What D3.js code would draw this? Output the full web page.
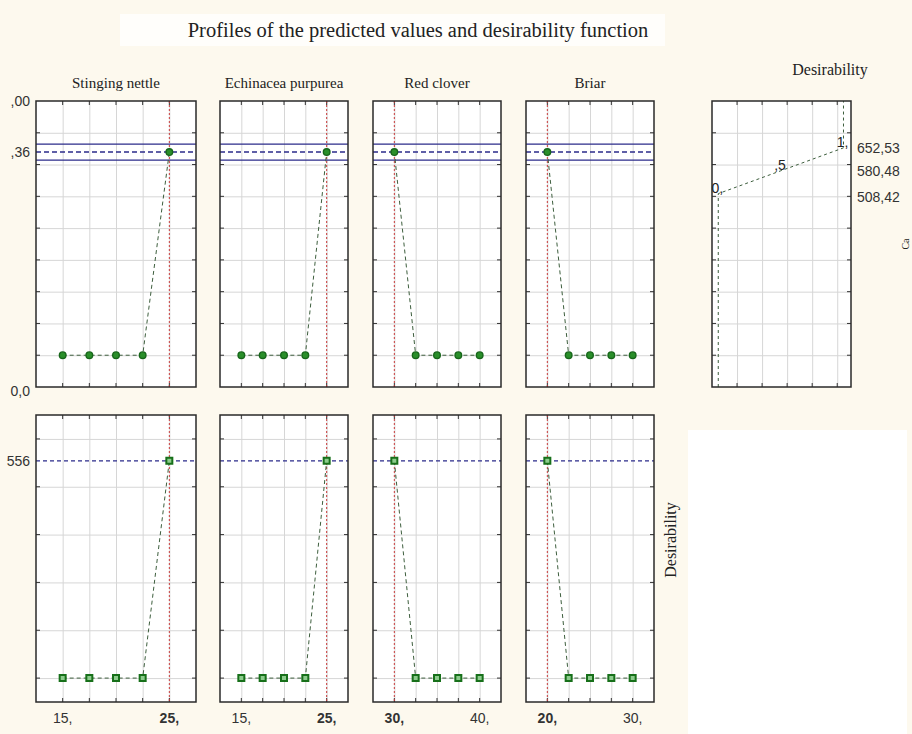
<!DOCTYPE html>
<html>
<head>
<meta charset="utf-8">
<script src="https://cdn.jsdelivr.net/npm/d3@7"></script>
<style>
  body { margin: 0; background: #fdf9ee; }
  svg { display: block; }
</style>
</head>
<body>
<script>
'use strict';

// ---- data ----
const factors = ["Stinging nettle", "Echinacea purpurea", "Red clover", "Briar"];
const factorLevels = [
  [15, 17.5, 20, 22.5, 25],
  [15, 17.5, 20, 22.5, 25],
  [30, 32.5, 35, 37.5, 40],
  [20, 22.5, 25, 27.5, 30]
];
const currentLevel = [25, 25, 30, 20];
const predictedValues = [
  [0, 0, 0, 0, 639.36],
  [0, 0, 0, 0, 639.36],
  [639.36, 0, 0, 0, 0],
  [639.36, 0, 0, 0, 0]
];
const desirabilityValues = [
  [0, 0, 0, 0, 0.9086],
  [0, 0, 0, 0, 0.9086],
  [0.9086, 0, 0, 0, 0],
  [0.9086, 0, 0, 0, 0]
];
const xTickValues = [[15, 25], [15, 25], [30, 40], [20, 30]];
const xTickLabels = [["15,", "25,"], ["15,", "25,"], ["30,", "40,"], ["20,", "30,"]];

const predicted = 639.36;
const confLow = 614.2;
const confHigh = 664.5;
const predictedDesirability = 0.9086;

const responseTickValues = [800, 639.36, -100];
const responseTickLabels = [",00", ",36", "0,0"];
const desirTickValues = [0.9086];
const desirTickLabels = ["556"];

// desirability function (response -> desirability)
const dfResponse = [508.42, 580.48, 652.53];
const dfDesirability = [0, 0.5, 1];
const dfPointLabels = ["0,", ",5", "1,"];
const dfValueLabels = ["508,42", "580,48", "652,53"];

// ---- layout ----
const W = 912, H = 734;
const topRow = [101, 387], botRow = [415, 702];
const panelX = [[36, 196], [220, 348], [373, 501], [526, 654]];
const desX = [712, 851];
const serif = "'Liberation Serif', 'Times New Roman', serif";
const sans = "'Liberation Sans', Arial, sans-serif";

const svg = d3.select("body").append("svg")
  .attr("width", W)
  .attr("height", H);

// background + white patches
svg.append("rect").attr("width", W).attr("height", H).attr("fill", "#fdf9ee");
svg.append("rect").attr("x", 120).attr("y", 14).attr("width", 545).attr("height", 32).attr("fill", "#fffefb");
svg.append("rect").attr("x", 688).attr("y", 430).attr("width", 219).attr("height", 304).attr("fill", "#ffffff");

// title
svg.append("text")
  .attr("x", 418).attr("y", 37)
  .attr("text-anchor", "middle")
  .style("font-family", serif).style("font-size", "20.5px").attr("fill", "#222")
  .text("Profiles of the predicted values and desirability function");

// scales for the two rows
let yResp = d3.scaleLinear().domain([-100, 800]).range([topRow[1], topRow[0]]);
let yDes = d3.scaleLinear().domain([-0.1, 1.1]).range([botRow[1], botRow[0]]);
let respGrid = d3.range(0, 800, 100);
let desGrid = d3.range(0, 1.01, 0.2);

// draws the frame, grid and inner ticks of one panel
function drawFrame(x, y, xGrid, yGrid) {
  let [x0, x1] = x.range();
  let [y1, y0] = y.range();
  let g = svg.append("g");

  g.append("rect")
    .attr("x", x0).attr("y", y0)
    .attr("width", x1 - x0).attr("height", y1 - y0)
    .attr("fill", "#ffffff");

  // vertical grid
  g.append("g")
    .attr("transform", "translate(0," + y1 + ")")
    .call(d3.axisBottom(x).tickValues(xGrid).tickSize(-(y1 - y0)).tickFormat(""))
    .call(a => a.select(".domain").remove())
    .selectAll("line").attr("stroke", "#d6d6d6");

  // horizontal grid
  g.append("g")
    .attr("transform", "translate(" + x0 + ",0)")
    .call(d3.axisLeft(y).tickValues(yGrid).tickSize(-(x1 - x0)).tickFormat(""))
    .call(a => a.select(".domain").remove())
    .selectAll("line").attr("stroke", "#d6d6d6");

  // small ticks on each side
  let t = 4;
  let ticks = g.append("g").attr("stroke", "#333").attr("stroke-width", 1);
  xGrid.forEach(v => {
    ticks.append("line").attr("x1", x(v)).attr("x2", x(v)).attr("y1", y0).attr("y2", y0 + t);
    ticks.append("line").attr("x1", x(v)).attr("x2", x(v)).attr("y1", y1).attr("y2", y1 - t);
  });
  yGrid.forEach(v => {
    ticks.append("line").attr("x1", x0).attr("x2", x0 + t).attr("y1", y(v)).attr("y2", y(v));
    ticks.append("line").attr("x1", x1).attr("x2", x1 - t).attr("y1", y(v)).attr("y2", y(v));
  });

  return g;
}

function drawBorder(x, y) {
  let [x0, x1] = x.range();
  let [y1, y0] = y.range();
  svg.append("rect")
    .attr("x", x0).attr("y", y0)
    .attr("width", x1 - x0).attr("height", y1 - y0)
    .attr("fill", "none").attr("stroke", "#2a2a2a").attr("stroke-width", 1.5);
}

function hLine(x, yv, dash, width) {
  let [x0, x1] = x.range();
  svg.append("line")
    .attr("x1", x0).attr("x2", x1).attr("y1", yv).attr("y2", yv)
    .attr("stroke", "#2b2b8a").attr("stroke-width", width)
    .attr("stroke-dasharray", dash);
}

factors.forEach((name, i) => {
  let levels = factorLevels[i];
  let step = levels[1] - levels[0];
  let x = d3.scaleLinear()
    .domain([d3.min(levels) - step, d3.max(levels) + step])
    .range(panelX[i]);

  // panel title
  svg.append("text")
    .attr("x", (panelX[i][0] + panelX[i][1]) / 2).attr("y", 88)
    .attr("text-anchor", "middle")
    .style("font-family", serif).style("font-size", "15px").attr("fill", "#222")
    .text(name);

  [[yResp, respGrid, predictedValues[i], "top"], [yDes, desGrid, desirabilityValues[i], "bot"]]
    .forEach(([y, grid, vals, row]) => {
      drawFrame(x, y, levels, grid);

      if (row == "top") {
        hLine(x, y(confHigh), null, 1.2);
        hLine(x, y(confLow), null, 1.2);
        hLine(x, y(predicted), "5,3", 1.5);
      } else {
        hLine(x, y(predictedDesirability), "4,3", 1.2);
      }

      // current level (red dotted)
      let [y1, y0] = y.range();
      svg.append("line")
        .attr("x1", x(currentLevel[i])).attr("x2", x(currentLevel[i]))
        .attr("y1", y0).attr("y2", y1)
        .attr("stroke", "#c83a3a").attr("stroke-width", 1)
        .attr("stroke-dasharray", "2,2");

      let pts = levels.map((l, k) => [l, vals[k]]);
      svg.append("path")
        .datum(pts)
        .attr("d", d3.line().x(d => x(d[0])).y(d => y(d[1])))
        .attr("fill", "none")
        .attr("stroke", "#3d5e3d").attr("stroke-width", 1)
        .attr("stroke-dasharray", "4,3");

      if (row == "top") {
        svg.selectAll(null).data(pts).enter().append("circle")
          .attr("cx", d => x(d[0])).attr("cy", d => y(d[1]))
          .attr("r", 3.3)
          .attr("fill", "#2a8f2a").attr("stroke", "#17661a").attr("stroke-width", 1.4);
      } else {
        svg.selectAll(null).data(pts).enter().append("path")
          .attr("transform", d => "translate(" + x(d[0]) + "," + y(d[1]) + ")")
          .attr("d", d3.symbol(d3.symbolSquare, 36))
          .attr("fill", "#8dcc8d").attr("stroke", "#17701a").attr("stroke-width", 2);
      }

      drawBorder(x, y);
    });

  // x tick labels under the bottom row
  xTickValues[i].forEach((v, k) => {
    svg.append("text")
      .attr("x", x(v)).attr("y", 723)
      .attr("text-anchor", "middle")
      .style("font-family", sans).style("font-size", "14px")
      .style("font-weight", v == currentLevel[i] ? "bold" : "normal")
      .attr("fill", "#333")
      .text(xTickLabels[i][k]);
  });
});

// y tick labels on the left
responseTickValues.forEach((v, k) => {
  svg.append("text")
    .attr("x", 30).attr("y", yResp(v) + (k == 2 ? 4 : 0)).attr("dy", "0.35em")
    .attr("text-anchor", "end")
    .style("font-family", sans).style("font-size", "14px").attr("fill", "#333")
    .text(responseTickLabels[k]);
});
desirTickValues.forEach((v, k) => {
  svg.append("text")
    .attr("x", 30).attr("y", yDes(v)).attr("dy", "0.35em")
    .attr("text-anchor", "end")
    .style("font-family", sans).style("font-size", "14px").attr("fill", "#333")
    .text(desirTickLabels[k]);
});

// rotated label for the bottom row
svg.append("text")
  .attr("transform", "translate(676,540) rotate(-90)")
  .attr("text-anchor", "middle")
  .style("font-family", serif).style("font-size", "16px").attr("fill", "#222")
  .text("Desirability");

// ---- desirability function panel ----
let xD = d3.scaleLinear().domain([-0.05, 1.06]).range(desX);
drawFrame(xD, yResp, [0.15, 0.35, 0.55, 0.75, 0.95], respGrid);

let yDom = yResp.domain();
let dfPts = [[dfDesirability[0], yDom[0]]]
  .concat(dfResponse.map((r, k) => [dfDesirability[k], r]))
  .concat([[dfDesirability[dfDesirability.length - 1], yDom[1]]]);

svg.append("path")
  .datum(dfPts)
  .attr("d", d3.line().x(d => xD(d[0])).y(d => yResp(d[1])))
  .attr("fill", "none")
  .attr("stroke", "#3d5e3d").attr("stroke-width", 1)
  .attr("stroke-dasharray", "3,3");

drawBorder(xD, yResp);

dfResponse.forEach((r, k) => {
  svg.append("text")
    .attr("x", xD(dfDesirability[k]) + 5).attr("y", yResp(r) - 1)
    .attr("text-anchor", "end")
    .style("font-family", sans).style("font-size", "14px").attr("fill", "#222")
    .text(dfPointLabels[k]);
  svg.append("text")
    .attr("x", 857).attr("y", yResp(r) + (k == 0 ? 3 : 0)).attr("dy", "0.35em")
    .style("font-family", sans).style("font-size", "14px").attr("fill", "#333")
    .text(dfValueLabels[k]);
});

svg.append("text")
  .attr("x", 830).attr("y", 75)
  .attr("text-anchor", "middle")
  .style("font-family", serif).style("font-size", "16px").attr("fill", "#222")
  .text("Desirability");

// small rotated axis title at the right edge
svg.append("text")
  .attr("transform", "translate(909,244) rotate(-90)")
  .attr("text-anchor", "middle")
  .style("font-family", serif).style("font-size", "10px").attr("fill", "#222")
  .text("Ca");
</script>
</body>
</html>
